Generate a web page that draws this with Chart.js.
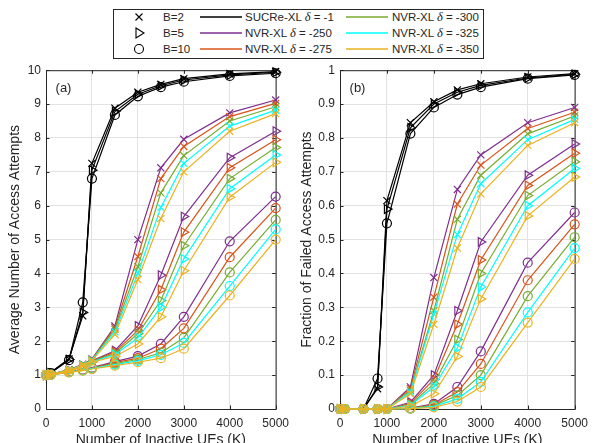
<!DOCTYPE html>
<html>
<head>
<meta charset="utf-8">
<script src="https://cdn.jsdelivr.net/npm/chart.js@4.4.1/dist/chart.umd.min.js"></script>
<style>
  html, body { margin: 0; padding: 0; background: #fff; overflow: hidden; }
  #page { position: relative; width: 595px; height: 443px; overflow: hidden;
          font-family: "Liberation Sans", Arial, sans-serif; color: #262626; }
  #wrapA { position: absolute; left: 0; top: 58px; }
  #wrapB { position: absolute; left: 296px; top: 58px; }
  #legend { position: absolute; left: 113px; top: 9px; width: 371px; height: 50px;
            box-sizing: border-box; border: 1px solid #262626; background: #fff; font-size: 11.5px; }
  .lg { position: absolute; white-space: nowrap; line-height: 14px; height: 14px; }
  .lg i { font-family: "Liberation Serif", "DejaVu Serif", serif; font-size: 12.5px; }
  #legend svg { position: absolute; left: 0; top: 0; overflow: visible; }
</style>
</head>
<body>
<div id="page">
  <div id="wrapA"><canvas id="chartA" width="296" height="395"></canvas></div>
  <div id="wrapB"><canvas id="chartB" width="299" height="395"></canvas></div>
  <div id="legend"></div>
</div>
<script>
// x values: number of inactive UEs
const xK = [0, 100, 500, 800, 1000, 1500, 2000, 2500, 3000, 4000, 5000];

const bLabels = ["B=2", "B=5", "B=10"];
const schemes = ["SUCRe-XL", "NVR-XL", "NVR-XL", "NVR-XL", "NVR-XL", "NVR-XL"];
const deltas = ["-1", "-250", "-275", "-300", "-325", "-350"];
const colors = ["#000000", "#7E2F8E", "#D95319", "#77AC30", "#00FFFF", "#EDB120"];

// (a) average number of access attempts
const attSucreB2  = [1.0, 1.08, 1.48, 2.75, 7.25, 8.88, 9.35, 9.58, 9.75, 9.89, 9.96];
const attSucreB5  = [1.0, 1.07, 1.46, 2.85, 7.05, 8.78, 9.29, 9.54, 9.71, 9.86, 9.94];
const attSucreB10 = [1.0, 1.06, 1.44, 3.15, 6.8, 8.68, 9.23, 9.5, 9.66, 9.83, 9.91];

const att250B2  = [1.0, 1.02, 1.16, 1.32, 1.47, 2.45, 5.0, 7.12, 7.96, 8.74, 9.12];
const att250B5  = [1.0, 1.02, 1.13, 1.28, 1.42, 1.72, 2.45, 3.95, 5.68, 7.42, 8.2];
const att250B10 = [1.0, 1.01, 1.1, 1.16, 1.22, 1.4, 1.56, 1.92, 2.72, 4.95, 6.27];

const att275B2  = [1.0, 1.02, 1.15, 1.31, 1.46, 2.4, 4.5, 6.8, 7.75, 8.63, 9.02];
const att275B5  = [1.0, 1.02, 1.13, 1.27, 1.41, 1.68, 2.32, 3.52, 5.22, 7.12, 7.95];
const att275B10 = [1.0, 1.01, 1.1, 1.15, 1.21, 1.37, 1.5, 1.78, 2.38, 4.48, 5.93];

const att300B2  = [1.0, 1.02, 1.15, 1.3, 1.45, 2.35, 4.2, 6.38, 7.48, 8.5, 8.92];
const att300B5  = [1.0, 1.02, 1.12, 1.27, 1.4, 1.64, 2.22, 3.2, 4.82, 6.8, 7.72];
const att300B10 = [1.0, 1.01, 1.09, 1.15, 1.2, 1.34, 1.46, 1.66, 2.1, 4.03, 5.58];

const att325B2  = [1.0, 1.02, 1.14, 1.3, 1.44, 2.28, 4.0, 5.95, 7.25, 8.35, 8.82];
const att325B5  = [1.0, 1.02, 1.12, 1.26, 1.39, 1.6, 2.1, 3.0, 4.43, 6.5, 7.5];
const att325B10 = [1.0, 1.01, 1.09, 1.14, 1.19, 1.31, 1.42, 1.6, 1.95, 3.63, 5.3];

const att350B2  = [1.0, 1.02, 1.14, 1.29, 1.43, 2.2, 3.82, 5.62, 7.0, 8.2, 8.72];
const att350B5  = [1.0, 1.02, 1.11, 1.25, 1.38, 1.55, 1.92, 2.72, 4.08, 6.25, 7.28];
const att350B10 = [1.0, 1.01, 1.08, 1.13, 1.18, 1.28, 1.38, 1.5, 1.78, 3.35, 5.0];

// (b) fraction of failed access attempts
const failSucreB2  = [0, 0, 0, 0.06, 0.615, 0.845, 0.907, 0.942, 0.96, 0.98, 0.99];
const failSucreB5  = [0, 0, 0, 0.065, 0.59, 0.83, 0.9, 0.935, 0.955, 0.977, 0.988];
const failSucreB10 = [0, 0, 0, 0.09, 0.548, 0.813, 0.89, 0.928, 0.95, 0.975, 0.986];

const fail250B2  = [0, 0, 0, 0, 0, 0.065, 0.388, 0.648, 0.75, 0.845, 0.89];
const fail250B5  = [0, 0, 0, 0, 0, 0.02, 0.1, 0.29, 0.493, 0.69, 0.782];
const fail250B10 = [0, 0, 0, 0, 0, 0.003, 0.015, 0.065, 0.17, 0.432, 0.58];

const fail275B2  = [0, 0, 0, 0, 0, 0.06, 0.33, 0.605, 0.72, 0.828, 0.876];
const fail275B5  = [0, 0, 0, 0, 0, 0.016, 0.087, 0.25, 0.44, 0.66, 0.755];
const fail275B10 = [0, 0, 0, 0, 0, 0.002, 0.012, 0.05, 0.133, 0.38, 0.545];

const fail300B2  = [0, 0, 0, 0, 0, 0.055, 0.29, 0.56, 0.69, 0.812, 0.865];
const fail300B5  = [0, 0, 0, 0, 0, 0.013, 0.075, 0.205, 0.4, 0.63, 0.73];
const fail300B10 = [0, 0, 0, 0, 0, 0.002, 0.01, 0.04, 0.1, 0.333, 0.507];

const fail325B2  = [0, 0, 0, 0, 0, 0.05, 0.28, 0.515, 0.665, 0.795, 0.855];
const fail325B5  = [0, 0, 0, 0, 0, 0.011, 0.065, 0.18, 0.36, 0.6, 0.71];
const fail325B10 = [0, 0, 0, 0, 0, 0.001, 0.008, 0.03, 0.08, 0.285, 0.475];

const fail350B2  = [0, 0, 0, 0, 0, 0.045, 0.25, 0.475, 0.635, 0.778, 0.845];
const fail350B5  = [0, 0, 0, 0, 0, 0.008, 0.045, 0.155, 0.325, 0.57, 0.685];
const fail350B10 = [0, 0, 0, 0, 0, 0.001, 0.005, 0.022, 0.065, 0.255, 0.443];

const attRows = [
  [attSucreB2, attSucreB5, attSucreB10],
  [att250B2, att250B5, att250B10],
  [att275B2, att275B5, att275B10],
  [att300B2, att300B5, att300B10],
  [att325B2, att325B5, att325B10],
  [att350B2, att350B5, att350B10]
];
const failRows = [
  [failSucreB2, failSucreB5, failSucreB10],
  [fail250B2, fail250B5, fail250B10],
  [fail275B2, fail275B5, fail275B10],
  [fail300B2, fail300B5, fail300B10],
  [fail325B2, fail325B5, fail325B10],
  [fail350B2, fail350B5, fail350B10]
];

// marker per B value
const markStyle = ["crossRot", "triangle", "circle"];
const markRadius = [5, 5, 4.5];
const markRotation = [0, 90, 0];

const FONT = '"Liberation Sans", Arial, sans-serif';
const INK = "#262626";

function makeSets(rows) {
  const sets = [];
  rows.forEach((byB, k) => {
    byB.forEach((vals, b) => {
      sets.push({
        data: xK.map((x, i) => ({ x: x, y: vals[i] })),
        borderColor: colors[k],
        backgroundColor: "rgba(0,0,0,0)",
        borderWidth: 1.2,
        pointStyle: markStyle[b],
        pointRadius: markRadius[b],
        pointRotation: markRotation[b],
        pointBorderColor: colors[k],
        pointBackgroundColor: "rgba(0,0,0,0)",
        pointBorderWidth: 1.2,
        tension: 0,
        clip: false,
        order: 6 - k
      });
    });
  });
  return sets;
}

// box, inward ticks and panel tag
const frame = {
  id: "frame",
  beforeDatasetsDraw(chart, args, opts) {
    const { ctx, chartArea: a, scales } = chart;
    const x = scales.x, y = scales.y;
    ctx.save();
    ctx.strokeStyle = INK;
    ctx.lineWidth = 1;
    ctx.beginPath();
    x.ticks.forEach(t => {
      const p = Math.round(x.getPixelForValue(t.value)) + 0.5;
      ctx.moveTo(p, a.bottom); ctx.lineTo(p, a.bottom - 3.5);
      ctx.moveTo(p, a.top); ctx.lineTo(p, a.top + 3.5);
    });
    y.ticks.forEach(t => {
      const p = Math.round(y.getPixelForValue(t.value)) + 0.5;
      ctx.moveTo(a.left, p); ctx.lineTo(a.left + 3.5, p);
      ctx.moveTo(a.right, p); ctx.lineTo(a.right - 3.5, p);
    });
    ctx.stroke();
    ctx.strokeRect(a.left + 0.5, a.top + 0.5, a.right - a.left, a.bottom - a.top);
    ctx.fillStyle = INK;
    ctx.font = "13px " + FONT;
    ctx.textAlign = "center";
    ctx.textBaseline = "middle";
    ctx.fillText(opts.tag, a.left + 17.5, a.top + 18);
    ctx.restore();
  }
};

function makeChart(id, rows, yMax, yStep, yTitle, tag, yWidth, padRight, yTitlePad) {
  return new Chart(document.getElementById(id), {
    type: "line",
    data: { datasets: makeSets(rows) },
    plugins: [frame],
    options: {
      responsive: false,
      animation: false,
      events: [],
      layout: { padding: { top: 8, right: padRight, left: 0, bottom: 0 } },
      plugins: {
        legend: { display: false },
        tooltip: { enabled: false },
        frame: { tag: tag }
      },
      scales: {
        x: {
          type: "linear",
          min: 0,
          max: 5000,
          ticks: { stepSize: 1000, autoSkip: false, maxRotation: 0, padding: 7,
                   color: INK, font: { family: FONT, size: 12 },
                   callback: v => String(v) },
          grid: { color: "#e2e2e2", drawTicks: false },
          border: { display: false },
          title: { display: true, text: "Number of Inactive UEs (K)", color: INK,
                   font: { family: FONT, size: 14 }, padding: { top: 0, bottom: 4.6 } },
          afterFit: s => { s.height = 44; }
        },
        y: {
          type: "linear",
          min: 0,
          max: yMax,
          ticks: { stepSize: yStep, autoSkip: false, padding: 5,
                   color: INK, font: { family: FONT, size: 12 },
                   callback: v => String(Math.round(v * 10) / 10) },
          grid: { color: "#e2e2e2", drawTicks: false },
          border: { display: false },
          title: { display: true, text: yTitle, color: INK,
                   font: { family: FONT, size: 14 }, padding: { top: yTitlePad, bottom: 0 } },
          afterFit: s => { s.width = yWidth; }
        }
      }
    }
  });
}

makeChart("chartA", attRows, 10, 1, "Average Number of Access Attempts", "(a)", 46, 9, 7);
makeChart("chartB", failRows, 1, 0.1, "Fraction of Failed Access Attempts", "(b)", 44, 13, 3);

// legend (shared, HTML + SVG samples)
const legend = document.getElementById("legend");
const rowY = [7, 23, 39];
const markX = 25, bTextX = 49;
const lineCols = [[86, 128, 131], [232, 274, 278]];
const svgNS = "http://www.w3.org/2000/svg";
const svg = document.createElementNS(svgNS, "svg");
svg.setAttribute("width", "369");
svg.setAttribute("height", "48");
legend.appendChild(svg);

function svgEl(tag, attrs, color, width) {
  const el = document.createElementNS(svgNS, tag);
  for (const k in attrs) el.setAttribute(k, attrs[k]);
  el.style.fill = "none";
  el.style.stroke = color;
  el.style.strokeWidth = width;
  svg.appendChild(el);
  return el;
}

function addText(left, cy, html) {
  const s = document.createElement("span");
  s.className = "lg";
  s.style.left = left + "px";
  s.style.top = (cy - 7) + "px";
  s.innerHTML = html;
  legend.appendChild(s);
}

bLabels.forEach((lab, r) => {
  const cy = rowY[r];
  if (r === 0) {
    svgEl("path", { d: `M${markX - 3.5} ${cy - 3.5}L${markX + 3.5} ${cy + 3.5}M${markX + 3.5} ${cy - 3.5}L${markX - 3.5} ${cy + 3.5}` }, "#000", 1.1);
  } else if (r === 1) {
    svgEl("path", { d: `M${markX - 3} ${cy - 5}L${markX + 5} ${cy}L${markX - 3} ${cy + 5}Z` }, "#000", 1.1);
  } else {
    svgEl("circle", { cx: markX, cy: cy, r: 4.5 }, "#000", 1.1);
  }
  addText(bTextX, cy, lab);
});

deltas.forEach((d, k) => {
  const col = lineCols[Math.floor(k / 3)];
  const cy = rowY[k % 3];
  svgEl("line", { x1: col[0], y1: cy, x2: col[1], y2: cy }, colors[k], 1.6);
  addText(col[2], cy, schemes[k] + " <i>δ</i> = " + d);
});
</script>
</body>
</html>
